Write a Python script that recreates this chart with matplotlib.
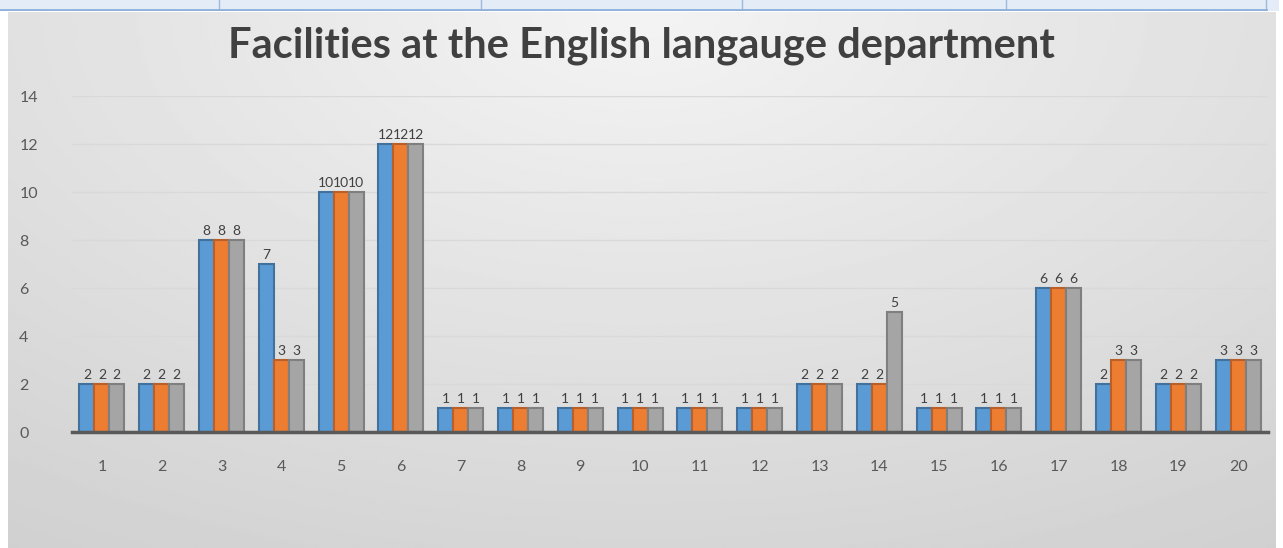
import numpy as np
from matplotlib import pyplot as plt
from matplotlib.patches import Rectangle

categories = [str(i) for i in range(1, 21)]
series1 = [2, 2, 8, 7, 10, 12, 1, 1, 1, 1, 1, 1, 2, 2, 1, 1, 6, 2, 2, 3]
series2 = [2, 2, 8, 3, 10, 12, 1, 1, 1, 1, 1, 1, 2, 2, 1, 1, 6, 3, 2, 3]
series3 = [2, 2, 8, 3, 10, 12, 1, 1, 1, 1, 1, 1, 2, 5, 1, 1, 6, 3, 2, 3]
yticks = [0, 2, 4, 6, 8, 10, 12, 14]

colors = ['#5B9BD5', '#ED7D31', '#A5A5A5']
edges = ['#41719C', '#B9602A', '#7F7F7F']

plt.rcParams['font.family'] = ['Lato', 'DejaVu Sans']

W, H = 1283, 548
fig = plt.figure(figsize=(W / 100, H / 100), dpi=100)
fig.patch.set_facecolor('white')

# spreadsheet strip on top
strip = fig.add_axes([0, (H - 11) / H, 1, 11 / H])
strip.set_xlim(0, W)
strip.set_ylim(0, 11)
strip.axis('off')
strip.add_patch(Rectangle((0, 0), W - 4, 11, facecolor='#E4ECF7', edgecolor='none'))
for xv in [219, 481, 742, 1006, 1266]:
    strip.plot([xv, xv], [0, 11], color='#9DB9DE', lw=1)
strip.plot([0, 1266], [1, 1], color='#8FB0DA', lw=2)

# chart background gradient
bg = fig.add_axes([8 / W, 0, (1276 - 8) / W, (H - 12) / H])
yy, xx = np.mgrid[0:1:200j, 0:1:400j]
d = np.sqrt(((xx - 0.5) * 1.3) ** 2 + ((yy - 0.0) * 1.0) ** 2)
img = 0.955 - 0.14 * np.clip(d, 0, 1.2) / 1.2
bg.imshow(img, cmap='gray', vmin=0, vmax=1, aspect='auto', extent=[0, 1, 1, 0])
bg.axis('off')

fig.text(0.5, (H - 46) / H, 'Facilities at the English langauge department',
         ha='center', va='center', fontsize=30, fontweight='bold', color='#404040')

ax = fig.add_axes([72 / W, (H - 432) / H, 1196 / W, 336 / H])
ax.patch.set_alpha(0)
x = np.arange(len(categories))
w = 0.25
for i, s in enumerate([series1, series2, series3]):
    bars = ax.bar(x + (i - 1) * w, s, w, color=colors[i], edgecolor=edges[i],
                  linewidth=1.5, zorder=3)
    for b, v in zip(bars, s):
        ax.annotate(str(v), (b.get_x() + b.get_width() / 2, v), xytext=(0, 2),
                    textcoords='offset points', ha='center', va='bottom',
                    fontsize=10, color='#404040')

ax.set_xlim(-0.5, len(categories) - 0.5)
ax.set_ylim(0, 14)
ax.set_yticks(yticks)
ax.set_xticks(x)
ax.set_xticklabels(categories)
ax.tick_params(length=0, colors='#595959', labelsize=11.5)
ax.tick_params(axis='x', pad=20)
ax.tick_params(axis='y', pad=38)
for lbl in ax.get_yticklabels():
    lbl.set_horizontalalignment('left')
ax.grid(axis='y', color='#D9D9D9', lw=1, zorder=0)
for sp in ['top', 'right', 'left']:
    ax.spines[sp].set_visible(False)
ax.spines['bottom'].set_color('#595959')
ax.spines['bottom'].set_linewidth(2.5)
ax.spines['bottom'].set_zorder(4)

fig.savefig('out.png', dpi=100)
